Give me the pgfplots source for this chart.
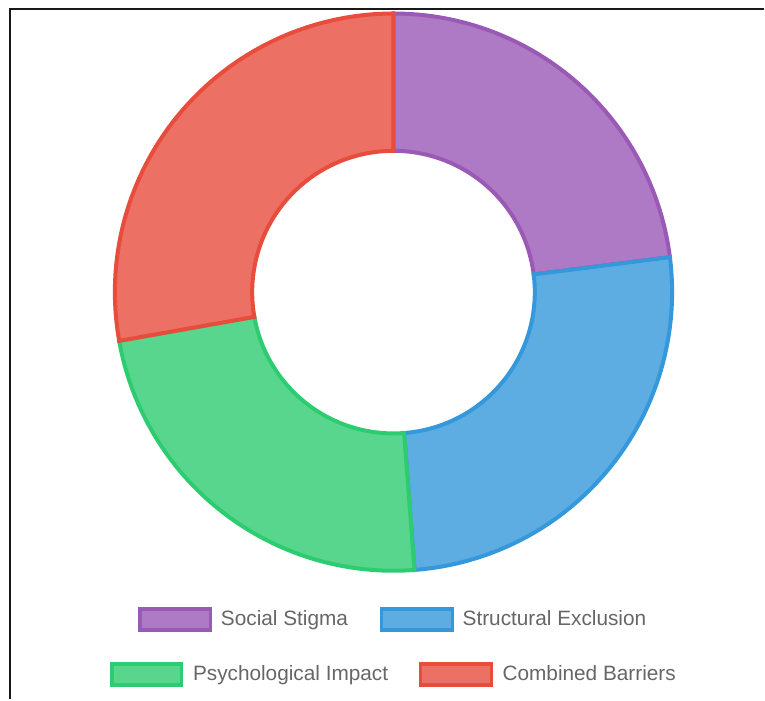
\documentclass[border=0pt]{standalone}
\usepackage{pgfplots}
\pgfplotsset{compat=1.18}
\usepackage{fontspec}
\setmainfont{Liberation Sans}
\definecolor{pB}{HTML}{9B59B6}\definecolor{pF}{HTML}{AF7AC5}
\definecolor{bB}{HTML}{3498DB}\definecolor{bF}{HTML}{5DADE2}
\definecolor{gB}{HTML}{2ECC71}\definecolor{gF}{HTML}{58D68D}
\definecolor{rB}{HTML}{E74C3C}\definecolor{rF}{HTML}{EC7063}
\definecolor{txt}{HTML}{666666}
% data values
\def\vA{23.0}\def\vB{25.8}\def\vC{23.4}\def\vD{27.8}
\def\cx{394}\def\cy{-292.5}\def\RO{279}\def\RI{141.5}
\pgfmathsetmacro\tot{\vA+\vB+\vC+\vD}
\pgfmathsetmacro\aA{90}
\pgfmathsetmacro\aB{90-360*\vA/\tot}
\pgfmathsetmacro\aC{\aB-360*\vB/\tot}
\pgfmathsetmacro\aD{\aC-360*\vC/\tot}
\pgfmathsetmacro\aE{\aD-360*\vD/\tot}
\pgfplotsset{
  sector/.style n args={4}{fill=#3, draw=#4, line width=3pt,
    variable=\u, samples at={0,0.02,...,4.0001},
    declare function={
      sr(\s)=(\s<=1) ? \RO : ((\s<=2) ? \RO+(\RI-\RO)*(\s-1) : ((\s<=3) ? \RI : \RI+(\RO-\RI)*(\s-3)));
      sa(\s)=(\s<=1) ? #1+(#2-#1)*\s : ((\s<=2) ? #2 : ((\s<=3) ? #2-(#2-#1)*(\s-2) : #1));
    }},
}
\begin{document}
\begin{tikzpicture}
\begin{axis}[width=573.75pt, height=525pt, scale only axis,
  xmin=0, xmax=765, ymin=-700, ymax=0, hide axis, clip=false]
\path (axis cs:0,0) rectangle (axis cs:765,-700);
% frame
\draw[line width=1.5pt, black!90] (axis cs:10,-700) -- (axis cs:10,-9.3) -- (axis cs:765,-9.3);
\addplot[sector={\aA}{\aB}{pF}{pB}] ({\cx+sr(\u)*cos(sa(\u))},{\cy+sr(\u)*sin(sa(\u))}) -- cycle;
\addplot[sector={\aB}{\aC}{bF}{bB}] ({\cx+sr(\u)*cos(sa(\u))},{\cy+sr(\u)*sin(sa(\u))}) -- cycle;
\addplot[sector={\aC}{\aD}{gF}{gB}] ({\cx+sr(\u)*cos(sa(\u))},{\cy+sr(\u)*sin(sa(\u))}) -- cycle;
\addplot[sector={\aD}{\aE}{rF}{rB}] ({\cx+sr(\u)*cos(sa(\u))},{\cy+sr(\u)*sin(sa(\u))}) -- cycle;
% legend
\draw[fill=pF, draw=pB, line width=2.6pt] (axis cs:140,-610) rectangle (axis cs:211,-631);
\draw[fill=bF, draw=bB, line width=2.6pt] (axis cs:382,-610) rectangle (axis cs:453,-631);
\draw[fill=gF, draw=gB, line width=2.6pt] (axis cs:112,-665) rectangle (axis cs:182,-686);
\draw[fill=rF, draw=rB, line width=2.6pt] (axis cs:421,-665) rectangle (axis cs:492,-686);
\begin{scope}[every node/.style={anchor=base west, inner sep=0pt, text=txt, font=\fontsize{15.6}{18}\selectfont}]
\node at (axis cs:221,-626) {Social Stigma};
\node at (axis cs:463,-626) {Structural Exclusion};
\node at (axis cs:193,-681) {Psychological Impact};
\node at (axis cs:503,-681) {Combined Barriers};
\end{scope}
\end{axis}
\end{tikzpicture}
\end{document}
